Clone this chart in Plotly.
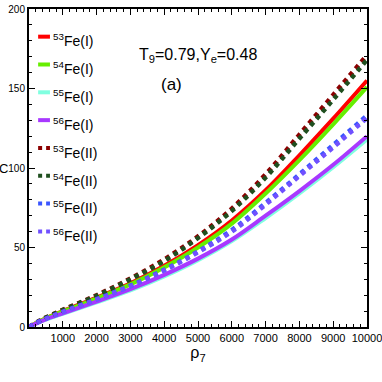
import plotly.graph_objects as go

# density rho_7 grid and C values
rho = [0, 250, 500, 1000, 2000, 3000, 4000, 5000, 6000, 7000, 8000, 9000, 10000]

fe53_I = [0, 3.0, 5.5, 10, 18.5, 27.5, 38.5, 51.5, 67, 86, 108, 131, 155]
fe54_I = [0, 2.9, 5.4, 9.8, 18, 26.8, 37.5, 50, 65, 84, 105, 127.5, 151]
fe55_I = [0, 2.5, 4.6, 8.3, 15.5, 23, 31.8, 42, 54, 68.5, 84, 100.5, 118]
fe56_I = [0, 2.6, 4.8, 8.6, 16, 23.8, 32.8, 43, 55, 70, 85.5, 102, 120]
fe53_II = [0, 3.2, 6.0, 10.8, 20, 30.5, 42.5, 57, 74.5, 96, 121, 146, 171]
fe54_II = [0, 3.1, 5.9, 10.6, 19.6, 30, 41.5, 56, 73, 94, 118.5, 143, 168]
fe55_II = [0, 2.9, 5.3, 9.6, 17.5, 26, 36, 47.5, 61, 78, 96, 114.5, 133]
fe56_II = [0, 2.8, 5.2, 9.4, 17.2, 25.5, 35.5, 47, 60, 77, 95, 113, 131.5]

x_ticks = [1000, 2000, 3000, 4000, 5000, 6000, 7000, 8000, 9000, 10000]
x_ticklabels = ['1000', '2000', '3000', '4000', '5000', '6000', '7000', '8000', '9000', '10000']
y_ticks = [0, 50, 100, 150, 200]

labels = ['<sup>53</sup>Fe(I)', '<sup>54</sup>Fe(I)', '<sup>55</sup>Fe(I)', '<sup>56</sup>Fe(I)',
          '<sup>53</sup>Fe(II)', '<sup>54</sup>Fe(II)', '<sup>55</sup>Fe(II)', '<sup>56</sup>Fe(II)']
values = [fe53_I, fe54_I, fe55_I, fe56_I, fe53_II, fe54_II, fe55_II, fe56_II]
colors = ['#ff0000', '#66ee00', '#80ffe0', '#a838ff', '#8b0000', '#1f4f1f', '#3a55ff', '#7050ff']
dashes = ['solid'] * 4 + ['dot'] * 4

FONT = 'Liberation Sans, Arial, sans-serif'

fig = go.Figure()
for name, vals, color, dash in zip(labels, values, colors, dashes):
    fig.add_trace(go.Scatter(
        x=rho, y=vals, name=name, mode='lines', showlegend=False,
        line=dict(color=color, width=4 if dash == 'solid' else 4.5, dash=dash, shape='spline'),
    ))

# hand-made legend with short line samples, like the original figure
for i, (name, color, dash) in enumerate(zip(labels, colors, dashes)):
    ly = 0.913 - i * 0.0875
    fig.add_shape(type='line', xref='paper', yref='paper',
                  x0=0.027, x1=0.062, y0=ly, y1=ly,
                  line=dict(color=color, width=4, dash=dash))
    fig.add_annotation(x=0.064, y=ly - 0.012, xref='paper', yref='paper',
                       xanchor='left', yanchor='middle', showarrow=False,
                       text=name, font=dict(family=FONT, size=14, color='black'))

axis_common = dict(
    showline=True, linecolor='black', linewidth=2, mirror='allticks',
    ticks='inside', ticklen=6, tickwidth=1, tickcolor='black',
    showgrid=False, zeroline=False, automargin=False, ticklabeloverflow='allow',
)

fig.update_xaxes(
    range=[0, 10000], tickvals=x_ticks, ticktext=x_ticklabels,
    minor=dict(dtick=200, ticks='inside', ticklen=3, tickcolor='black'),
    tickfont=dict(family=FONT, size=11, color='black'),
    title=dict(text='ρ<sub>7</sub>', font=dict(family=FONT, size=16, color='black'), standoff=4),
    **axis_common,
)
fig.update_yaxes(
    range=[0, 200], tickvals=y_ticks,
    minor=dict(dtick=10, ticks='inside', ticklen=3, tickcolor='black'),
    tickfont=dict(family=FONT, size=10, color='black'),
    **axis_common,
)

# y-axis title sits hard against the page edge in the original
fig.add_annotation(
    x=-0.074, y=0.5, xref='paper', yref='paper', showarrow=False,
    xanchor='center', text='C', font=dict(family=FONT, size=13, color='black'),
)
fig.add_annotation(
    x=0.5, y=0.89, xref='paper', yref='paper', showarrow=False,
    text='T<sub>9</sub>=0.79,Y<sub>e</sub>=0.48',
    font=dict(family=FONT, size=16, color='black'),
)
fig.add_annotation(
    x=0.423, y=0.80, xref='paper', yref='paper', showarrow=False,
    text='(a)', font=dict(family=FONT, size=17, color='black'),
)

fig.update_layout(
    width=382, height=382,
    margin=dict(l=29, r=15, t=9, b=55),
    paper_bgcolor='white', plot_bgcolor='white',
)

# drop the default page margin so the figure sits at the window corner
fig.write_html("out.html", config={'displayModeBar': False},
               post_script="document.body.style.margin='0';")
